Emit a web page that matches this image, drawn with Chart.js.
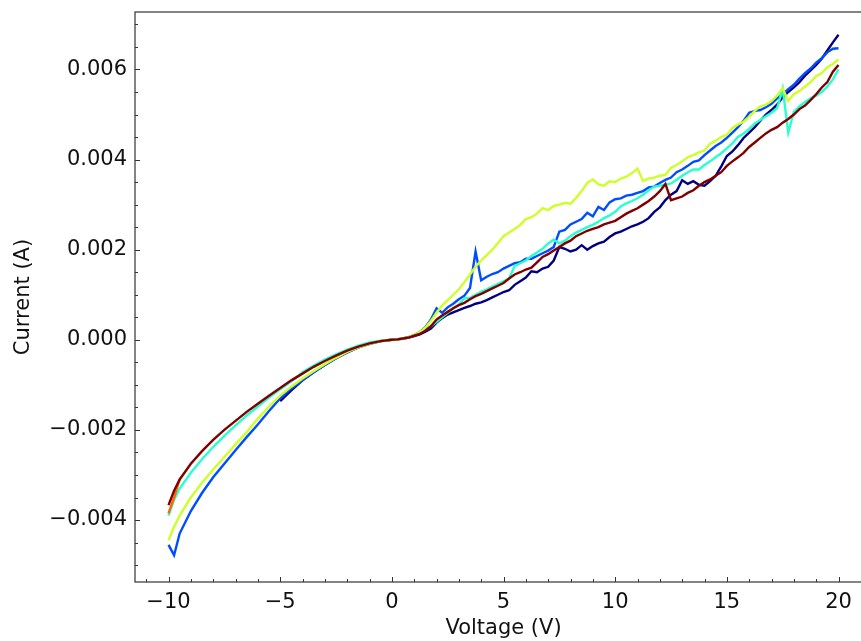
<!DOCTYPE html>
<html>
<head>
<meta charset="utf-8">
<script src="https://cdn.jsdelivr.net/npm/chart.js@4.4.1/dist/chart.umd.min.js"></script>
<style>
  html, body { margin: 0; padding: 0; background: #fff; overflow: hidden; }
  canvas { display: block; }
</style>
</head>
<body>
<canvas id="myChart" width="880" height="641"></canvas>
<script>
// sweep voltages (V): coarse on the negative side, 0.25 V steps on the positive side
const voltage = [
  -10, -9.75, -9.5, -9, -8.5, -8, -7.5, -7, -6.5, -6, -5.5, -5, -4.5, -4, -3.5, -3, -2.5, -2, -1.5, -1, -0.5,
  0, 0.25, 0.5, 0.75, 1, 1.25, 1.5, 1.75,
  2, 2.25, 2.5, 2.75, 3, 3.25, 3.5, 3.75,
  4, 4.25, 4.5, 4.75, 5, 5.25, 5.5, 5.75,
  6, 6.25, 6.5, 6.75, 7, 7.25, 7.5, 7.75,
  8, 8.25, 8.5, 8.75, 9, 9.25, 9.5, 9.75,
  10, 10.25, 10.5, 10.75, 11, 11.25, 11.5, 11.75,
  12, 12.25, 12.5, 12.75, 13, 13.25, 13.5, 13.75,
  14, 14.25, 14.5, 14.75, 15, 15.25, 15.5, 15.75,
  16, 16.25, 16.5, 16.75, 17, 17.25, 17.5, 17.75,
  18, 18.25, 18.5, 18.75, 19, 19.25, 19.5, 19.75,
  20
];

// currents in mA, one list per sweep
const navyI = [
  null, null, null, null, null, null, null, null, null, null, null, -1.36, -1.12, -0.9, -0.72, -0.56, -0.41, -0.28, -0.17, -0.09, -0.03,
  0, 0.01, 0.03, 0.05, 0.08, 0.12, 0.18, 0.25,
  0.38, 0.48, 0.56, 0.61, 0.66, 0.71, 0.75, 0.8,
  0.83, 0.88, 0.94, 1.0, 1.06, 1.1, 1.22, 1.3,
  1.38, 1.52, 1.5, 1.58, 1.62, 1.76, 2.06, 2.02,
  1.96, 2.0, 2.1, 2.0, 2.08, 2.14, 2.18, 2.28,
  2.36, 2.4, 2.46, 2.52, 2.56, 2.62, 2.7, 2.84,
  2.94, 3.1, 3.22, 3.3, 3.54, 3.46, 3.52, 3.44,
  3.42, 3.52, 3.64, 3.85, 4.08, 4.18, 4.32, 4.48,
  4.6, 4.72, 4.86, 5.0, 5.1, 5.22, 5.38, 5.5,
  5.6, 5.72, 5.86, 5.98, 6.1, 6.24, 6.42, 6.6,
  6.77
];
const blueI = [
  -4.55, -4.78, -4.3, -3.8, -3.4, -3.05, -2.75, -2.45, -2.16, -1.88, -1.58, -1.3, -1.08, -0.9, -0.72, -0.56, -0.41, -0.28, -0.17, -0.09, -0.03,
  0, 0.01, 0.03, 0.06, 0.11, 0.17, 0.28, 0.45,
  0.7, 0.6, 0.72, 0.8, 0.9, 0.98, 1.15, 1.96,
  1.32, 1.4, 1.46, 1.5, 1.58, 1.64, 1.7, 1.72,
  1.8, 1.8, 1.86, 1.92, 1.98, 2.06, 2.4, 2.44,
  2.56, 2.62, 2.68, 2.82, 2.74, 2.95, 2.88, 3.05,
  3.12, 3.14, 3.2, 3.22, 3.26, 3.3, 3.38, 3.4,
  3.48, 3.55, 3.6, 3.72, 3.78, 3.86, 3.95, 3.98,
  4.1, 4.2, 4.3, 4.38, 4.48, 4.6, 4.72, 4.86,
  5.04, 5.08, 5.1, 5.16, 5.24, 5.36, 5.45, 5.56,
  5.66, 5.8, 5.92, 6.02, 6.15, 6.25, 6.38, 6.46,
  6.47
];
const cyanI = [
  -3.9, -3.55, -3.3, -2.95, -2.65, -2.38, -2.13, -1.9, -1.68, -1.48, -1.28, -1.1, -0.92, -0.72, -0.57, -0.44, -0.32, -0.22, -0.13, -0.06, -0.02,
  0, 0.01, 0.03, 0.06, 0.1, 0.15, 0.22, 0.3,
  0.4, 0.5, 0.6, 0.7, 0.78, 0.92, 0.93, 1.0,
  1.07, 1.12, 1.18, 1.24, 1.3, 1.36, 1.64, 1.7,
  1.76, 1.86, 1.94, 2.02, 2.14, 2.22, 2.14, 2.2,
  2.3, 2.38, 2.44, 2.5, 2.55, 2.62, 2.7, 2.76,
  2.84, 2.96, 3.03, 3.08, 3.14, 3.22, 3.32, 3.4,
  3.42, 3.44, 3.47, 3.55, 3.64, 3.72, 3.78, 3.78,
  3.88, 3.96, 4.05, 4.14, 4.25, 4.36, 4.5, 4.58,
  4.68, 4.8, 4.88, 4.96, 5.04, 5.14, 5.58, 4.6,
  5.06, 5.18, 5.28, 5.36, 5.42, 5.5, 5.62, 5.78,
  6.0
];
const limeI = [
  -4.45, -4.15, -3.9, -3.5, -3.17, -2.88, -2.6, -2.32, -2.05, -1.75, -1.48, -1.24, -1.04, -0.86, -0.7, -0.54, -0.4, -0.27, -0.17, -0.09, -0.03,
  0, 0.01, 0.03, 0.06, 0.11, 0.17, 0.27, 0.42,
  0.6, 0.76, 0.88, 1.0, 1.12, 1.28, 1.45, 1.62,
  1.76, 1.88, 2.0, 2.15, 2.3, 2.38, 2.46, 2.55,
  2.68, 2.72, 2.8, 2.92, 2.88, 2.97, 3.0, 3.04,
  3.02, 3.15, 3.3, 3.48, 3.56, 3.45, 3.42, 3.52,
  3.5, 3.58, 3.62, 3.7, 3.8, 3.52, 3.58, 3.6,
  3.64, 3.66, 3.82, 3.88, 3.96, 4.05, 4.1, 4.16,
  4.2, 4.35, 4.42, 4.5, 4.55, 4.7, 4.78, 4.84,
  4.95, 5.08, 5.18, 5.22, 5.3, 5.42, 5.58, 5.3,
  5.45, 5.52, 5.62, 5.72, 5.85, 5.92, 6.05, 6.12,
  6.22
];
const orangeI = [
  -3.85, -3.5, -3.1, null, null, null, null, null, null, null, null, null, null, null, null, null, null, null, null, null, null
];
const darkRedI = [
  -3.67, -3.35, -3.1, -2.75, -2.47, -2.22, -2.0, -1.8, -1.6, -1.42, -1.24, -1.07, -0.9, -0.75, -0.6, -0.47, -0.35, -0.24, -0.15, -0.08, -0.03,
  0, 0.01, 0.03, 0.05, 0.09, 0.13, 0.2, 0.3,
  0.45, 0.54, 0.62, 0.7, 0.77, 0.82, 0.9, 0.97,
  1.02, 1.08, 1.14, 1.2, 1.26, 1.36, 1.45, 1.5,
  1.56, 1.6, 1.72, 1.84, 1.9, 1.98, 2.06, 2.14,
  2.2, 2.3, 2.36, 2.42, 2.46, 2.5, 2.56, 2.6,
  2.64, 2.72, 2.8, 2.86, 2.92, 3.0, 3.08, 3.18,
  3.3, 3.46, 3.1, 3.14, 3.18, 3.26, 3.32, 3.42,
  3.5, 3.56, 3.64, 3.72, 3.86, 3.96, 4.05, 4.15,
  4.28, 4.38, 4.48, 4.58, 4.66, 4.72, 4.82, 4.9,
  5.0, 5.12, 5.2, 5.32, 5.45, 5.6, 5.72, 5.95,
  6.1
];

const xTicks = [-10, -5, 0, 5, 10, 15, 20];
const yTicks = [-0.004, -0.002, 0, 0.002, 0.004, 0.006];

// jet colormap samples, first listed is drawn on top
const series = [
  { values: darkRedI, color: '#800000' },
  { values: orangeI, color: '#ff6800' },
  { values: limeI, color: '#ceff29' },
  { values: cyanI, color: '#29ffce' },
  { values: blueI, color: '#004cff' },
  { values: navyI, color: '#000080' }
];

const minus = s => String(s).replace('-', '\u2212');

const frameTicks = {
  id: 'frameTicks',
  afterDraw(chart) {
    const { ctx, chartArea: a, scales: { x, y } } = chart;
    ctx.save();
    ctx.strokeStyle = '#333';
    ctx.lineWidth = 1.2;
    ctx.strokeRect(a.left, a.top, a.right - a.left, a.bottom - a.top);
    ctx.lineWidth = 1;
    ctx.beginPath();
    for (let v = -11; v <= 21; v++) {
      const len = v % 5 === 0 ? 5 : 3;
      const px = Math.round(x.getPixelForValue(v)) + 0.5;
      ctx.moveTo(px, a.bottom);
      ctx.lineTo(px, a.bottom - len);
    }
    for (let k = -10; k <= 14; k++) {
      const len = k % 4 === 0 ? 5 : 3;
      const py = Math.round(y.getPixelForValue(k * 0.0005)) + 0.5;
      ctx.moveTo(a.left, py);
      ctx.lineTo(a.left + len, py);
    }
    ctx.stroke();
    ctx.restore();
  }
};

const font = { family: "'DejaVu Sans', sans-serif", size: 21 };

const ctx = document.getElementById('myChart').getContext('2d');
const myChart = new Chart(ctx, {
  type: 'line',
  data: {
    datasets: series.map(s => ({
      data: s.values.map((c, i) => ({ x: voltage[i], y: c === null ? null : c / 1000 })),
      borderColor: s.color,
      borderWidth: 2.4,
      pointRadius: 0,
      fill: false,
      tension: 0,
      spanGaps: false
    }))
  },
  options: {
    responsive: false,
    animation: false,
    devicePixelRatio: 1,
    layout: { padding: { top: 12, right: 8, left: 0, bottom: 0 } },
    plugins: { legend: { display: false }, tooltip: { enabled: false } },
    scales: {
      x: {
        type: 'linear',
        min: -11.5,
        max: 21.5,
        grid: { display: false, drawTicks: false },
        border: { display: false },
        afterBuildTicks: s => { s.ticks = xTicks.map(v => ({ value: v })); },
        afterFit: s => { s.height = 59; s.paddingLeft = 0; s.paddingRight = 0; },
        ticks: { font, color: '#111', padding: 8, maxRotation: 0, callback: v => minus(v) },
        title: { display: true, text: 'Voltage (V)', font, color: '#111', padding: { top: 0, bottom: 0 } }
      },
      y: {
        type: 'linear',
        min: -0.005375,
        max: 0.007275,
        grid: { display: false, drawTicks: false },
        border: { display: false },
        afterBuildTicks: s => { s.ticks = yTicks.map(v => ({ value: v })); },
        afterFit: s => { s.width = 135; s.paddingTop = 0; s.paddingBottom = 0; },
        ticks: { font, color: '#111', padding: 8, callback: v => minus(v.toFixed(3)) },
        title: { display: true, text: 'Current (A)', font, color: '#111', padding: { top: 11, bottom: 0 } }
      }
    }
  },
  plugins: [frameTicks]
});
</script>
</body>
</html>
